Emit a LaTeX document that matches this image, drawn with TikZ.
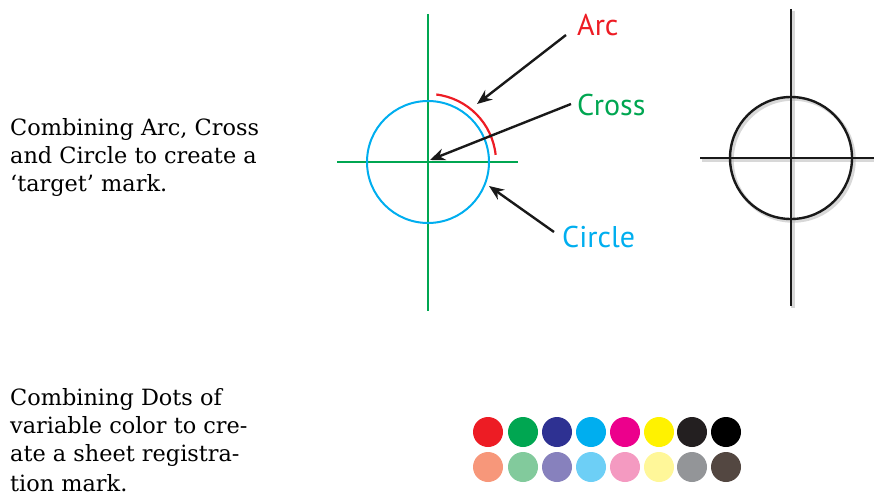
\documentclass[tikz,border=0pt]{standalone}
\usepackage{fontspec}
\setmainfont{DejaVu Serif}
\newfontfamily\labelfont{PT Sans}
\usetikzlibrary{arrows.meta}
\definecolor{cgreen}{RGB}{0,166,81}
\definecolor{cred}{RGB}{237,28,36}
\definecolor{ccyan}{RGB}{0,174,239}
\definecolor{c1}{HTML}{ED1C24}\definecolor{c2}{HTML}{00A651}\definecolor{c3}{HTML}{2E3192}\definecolor{c4}{HTML}{00AEEF}
\definecolor{c5}{HTML}{EC008C}\definecolor{c6}{HTML}{FFF200}\definecolor{c7}{HTML}{231F20}\definecolor{c8}{HTML}{000000}
\definecolor{d1}{HTML}{F7977A}\definecolor{d2}{HTML}{82CA9C}\definecolor{d3}{HTML}{8781BD}\definecolor{d4}{HTML}{6DCFF6}
\definecolor{d5}{HTML}{F49AC1}\definecolor{d6}{HTML}{FFF799}\definecolor{d7}{HTML}{939598}\definecolor{d8}{HTML}{534741}
\tikzset{
  body/.style={anchor=base west, inner sep=0pt, font=\fontsize{22.4}{22.4}\selectfont},
  lbl/.style={anchor=base west, inner sep=0pt, font=\labelfont\fontsize{30}{30}\selectfont},
  pointer/.style={draw=black!90, line width=2.4pt, -{Stealth[length=15pt,width=12pt]}},
  dot/.style={circle, inner sep=0pt, minimum size=30pt},
}
\begin{document}
\begin{tikzpicture}[x=1pt,y=-1pt]
\useasboundingbox (0,0) rectangle (874,492);
% texts
\node[body] (t1) at (10,135) {Combining Arc, Cross};
\node[body] (t2) at (10,163) {and Circle to create a};
\node[body] (t3) at (10,191) {‘target’ mark.};
\node[body] (u1) at (10,405) {Combining Dots of};
\node[body] (u2) at (10,433) {variable color to cre-};
\node[body] (u3) at (10,461) {ate a sheet registra-};
\node[body] (u4) at (10,491) {tion mark.};
% left target
\coordinate (c) at (428,162);
\draw[cgreen, line width=2pt] (428,14) -- (428,311);
\draw[cgreen, line width=2pt] (337,162) -- (518,162);
\draw[ccyan, line width=2pt] (c) circle[radius=61];
\draw[cred, line width=2.2pt] ([shift={(-83:68)}]c) arc[start angle=-83, end angle=-6, radius=68];
\node[lbl, text=cred] (arc) at (577,36) {Arc};
\node[lbl, text=cgreen] (cross) at (577,115) {Cross};
\node[lbl, text=ccyan] (circ) at (562,247) {Circle};
\coordinate (arcpt) at (477,104);
\coordinate (crosspt) at (430,160);
\coordinate (circpt) at (489,186);
\coordinate (arcst) at (566,35);
\coordinate (crossst) at (571,104);
\coordinate (circst) at (554,232);
\draw[pointer] (arcst) -- (arcpt);
\draw[pointer] (crossst) -- (crosspt);
\draw[pointer] (circst) -- (circpt);
% right target with shadow
\begin{scope}[shift={(2,2)}, line width=3.5pt, opacity=0.5]
\draw[gray!60] (791,9) -- (791,306);
\draw[gray!60] (700,158) -- (874,158);
\draw[gray!60] (791,158) circle[radius=61];
\end{scope}
\draw[black!90, line width=2.4pt] (791,9) -- (791,306);
\draw[black!90, line width=2.4pt] (700,158) -- (874,158);
\draw[black!90, line width=2.4pt] (791,158) circle[radius=61];
% dots
\foreach \i/\x in {1/488,2/523,3/557,4/591,5/625,6/659,7/692,8/726}{
  \node[dot, fill=c\i] (a\i) at (\x,432) {};
  \node[dot, fill=d\i] (b\i) at (\x,467) {};
}
\end{tikzpicture}
\end{document}
